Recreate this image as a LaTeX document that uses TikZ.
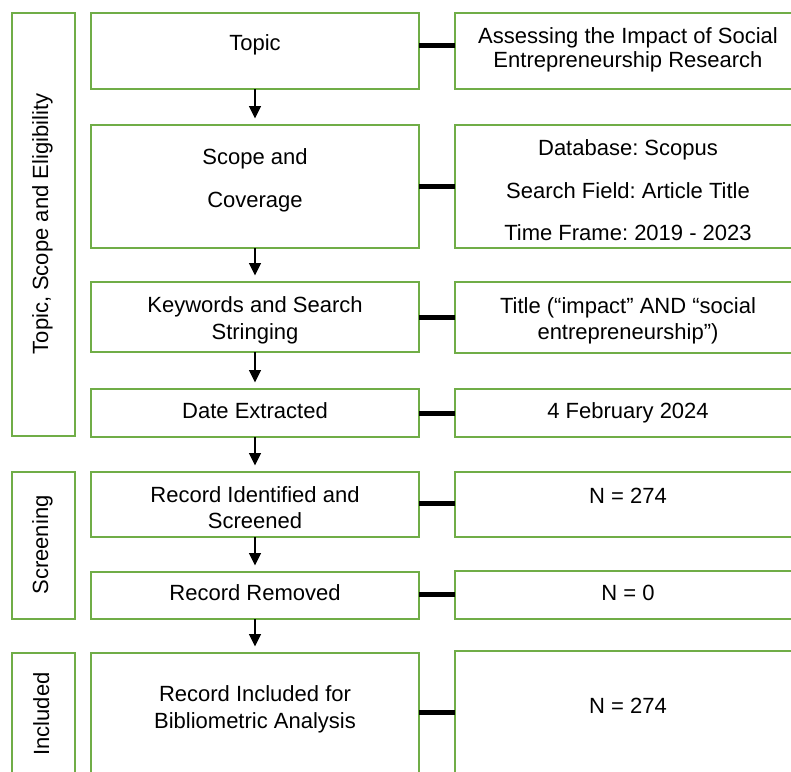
\documentclass[tikz,border=0pt]{standalone}
\usepackage{fontspec}
\setmainfont{Liberation Sans}
\frenchspacing
\usetikzlibrary{arrows.meta}
\definecolor{boxgreen}{HTML}{70AD47}
\newcommand{\mybox}[5]{\node[box,minimum width={(#4-#2)*1pt},minimum height={(#5-#3)*1pt}] (#1) at ({(#2+#4)/2},{(#3+#5)/2}) {};}
\begin{document}
\begin{tikzpicture}[x=1pt,y=-1pt,
  box/.style={draw=boxgreen,line width=1.4pt,rectangle,inner sep=0pt,outer sep=0pt},
  txt/.style={anchor=base,inner sep=0pt,font=\fontsize{22}{26}\selectfont},
  vtxt/.style={txt,rotate=90},
  link/.style={line width=5pt},
  arr/.style={line width=1.5pt,-{Triangle[length=12.5pt,width=12pt]},shorten >=6.5pt}]
\useasboundingbox (0,0) rectangle (791,771);
\clip (0,0) rectangle (791,771);
% left group boxes
\mybox{g1}{12}{13}{75}{436}
\mybox{g2}{12}{472}{75}{619}
\mybox{g3}{12}{653}{75}{790}
% main boxes
\mybox{topic}{91}{13}{419}{89}
\mybox{scope}{91}{125}{419}{248}
\mybox{keys}{91}{282}{419}{352}
\mybox{date}{91}{389}{419}{437}
\mybox{ident}{91}{472}{419}{537}
\mybox{removed}{91}{572}{419}{619}
\mybox{incl}{91}{653}{419}{790}
% right boxes
\mybox{r1}{455}{13}{801}{89}
\mybox{r2}{455}{125}{801}{248}
\mybox{r3}{455}{282}{801}{353}
\mybox{r4}{455}{389}{801}{437}
\mybox{r5}{455}{472}{801}{537}
\mybox{r6}{455}{571}{801}{619}
\mybox{r7}{455}{651}{801}{790}
% group labels
\node[vtxt] (g1t) at (48,224) {Topic, Scope and Eligibility};
\node[vtxt] (g2t) at (48,545) {Screening};
\node[vtxt] (g3t) at (49,714) {Included};
% main texts
\node[txt] (topic-t) at (255,50) {Topic};
\node[txt] (scope-t1) at (255,164) {Scope and};
\node[txt] (scope-t2) at (255,207) {Coverage};
\node[txt] (keys-t1) at (255,312) {Keywords and Search};
\node[txt] (keys-t2) at (255,339) {Stringing};
\node[txt] (date-t) at (255,418) {Date Extracted};
\node[txt] (ident-t1) at (255,502) {Record Identified and};
\node[txt] (ident-t2) at (255,528) {Screened};
\node[txt] (removed-t) at (255,600) {Record Removed};
\node[txt] (incl-t1) at (255,701) {Record Included for};
\node[txt] (incl-t2) at (255,728) {Bibliometric Analysis};
% right texts
\node[txt] (r1-t1) at (628,43) {Assessing the Impact of Social};
\node[txt] (r1-t2) at (628,67) {Entrepreneurship Research};
\node[txt] (r2-t1) at (628,155) {Database: Scopus};
\node[txt] (r2-t2) at (628,198) {Search Field: Article Title};
\node[txt] (r2-t3) at (628,240) {Time Frame: 2019 - 2023};
\node[txt] (r3-t1) at (628,313) {Title (“impact” AND “social};
\node[txt] (r3-t2) at (628,339) {entrepreneurship”)};
\node[txt] (r4-t) at (628,418) {4 February 2024};
\node[txt] (r5-t) at (628,503) {N = 274};
\node[txt] (r6-t) at (628,600) {N = 0};
\node[txt] (r7-t) at (628,713) {N = 274};
% links
\draw[link] ([yshift=6pt]topic.east) -- ([yshift=6pt]r1.west);
\draw[link] (scope.east) -- (r2.west);
\draw[link] (keys.east) -- (keys.east -| r3.west);
\draw[link] (date.east) -- (r4.west);
\draw[link] ([yshift=1.5pt]ident.east) -- ([yshift=1.5pt]ident.east -| r5.west);
\draw[link] ([yshift=1.5pt]removed.east) -- ([yshift=1.5pt]removed.east -| r6.west);
\draw[link] ([yshift=9.5pt]incl.east) -- ([yshift=9.5pt]incl.east -| r7.west);
% arrows
\draw[arr] (topic.south) -- (scope.north);
\draw[arr] (scope.south) -- (keys.north);
\draw[arr] (keys.south) -- (date.north);
\draw[arr] (date.south) -- (ident.north);
\draw[arr] (ident.south) -- (removed.north);
\draw[arr] (removed.south) -- (incl.north);
\end{tikzpicture}
\end{document}
